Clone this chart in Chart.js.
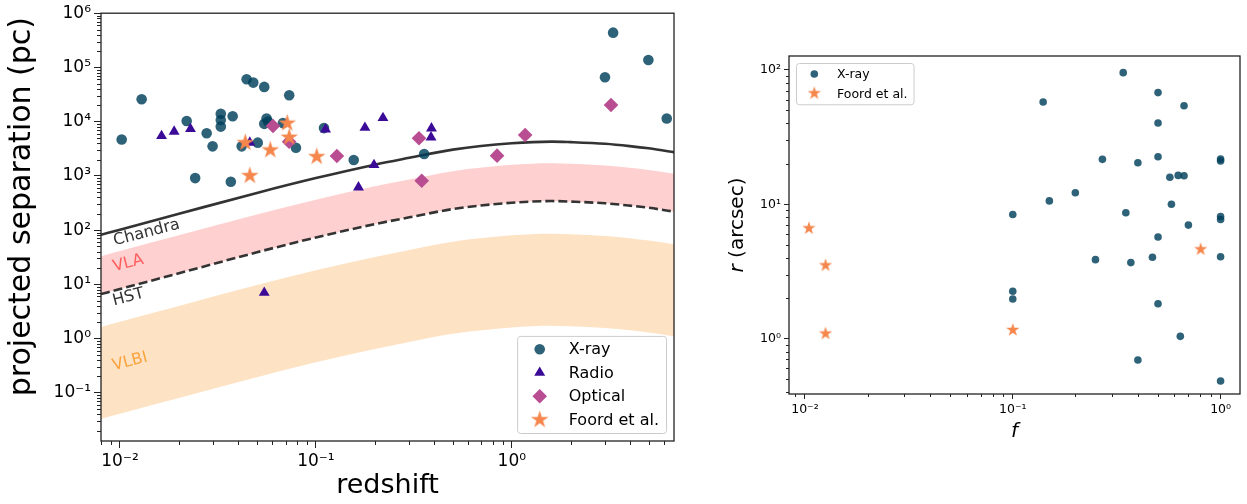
<!DOCTYPE html>
<html>
<head>
<meta charset="utf-8">
<script src="https://cdn.jsdelivr.net/npm/chart.js@4/dist/chart.umd.min.js"></script>
<style>
  body { margin: 0; background: #fff; }
  #sepChart { position: absolute; left: 0; top: 0; }
  #offChart { position: absolute; left: 700px; top: 0; }
</style>
</head>
<body>
<canvas id="sepChart" width="700" height="504"></canvas>
<canvas id="offChart" width="547" height="504"></canvas>
<script>
// --- resolution limits vs redshift (projected separation in pc) ---
const curveZ     = [0.008, 0.01, 0.02, 0.05, 0.1, 0.2, 0.3, 0.5, 1, 1.6, 2, 3, 4, 5, 7];
const chandraSep = [82, 102, 200, 485, 910, 1610, 2150, 3050, 4000, 4290, 4190, 3900, 3540, 3220, 2680];
const hstSep     = [6.6, 8.2, 16, 39, 73, 129, 172, 244, 320, 343, 335, 312, 283, 258, 214];
const vlaUpper   = [33, 41, 80, 194, 364, 644, 860, 1220, 1600, 1716, 1676, 1560, 1416, 1288, 1072];
const vlaLower   = [6.6, 8.2, 16, 39, 73, 129, 172, 244, 320, 343, 335, 312, 283, 258, 214];
const vlbiUpper  = [1.64, 2.05, 4.0, 9.7, 18.2, 32, 43, 61, 80, 86, 84, 78, 71, 64, 54];
const vlbiLower  = [0.033, 0.041, 0.080, 0.194, 0.364, 0.64, 0.86, 1.22, 1.6, 1.72, 1.68, 1.56, 1.42, 1.29, 1.07];

// --- dual AGN samples ---
const xrayZ   = [0.0102, 0.0129, 0.0219, 0.0277, 0.0297, 0.0242, 0.0327, 0.0327, 0.0327, 0.0376,
                 0.0368, 0.0443, 0.0479, 0.0545, 0.0731, 0.056, 0.0545, 0.0571, 0.0418, 0.0505,
                 0.0679, 0.0791, 0.11, 0.156, 0.357, 3.29, 4.98, 2.99, 6.18];
const xraySep = [4700, 25900, 10300, 6100, 3500, 910, 14000, 10700, 8100, 12600,
                 780, 60500, 52500, 43700, 30700, 11400, 9100, 10000, 3500, 4100,
                 9400, 3300, 7600, 1960, 2530, 438000, 137000, 65900, 11400];
const radioZ   = [0.0163, 0.0189, 0.0229, 0.046, 0.112, 0.178, 0.22, 0.198, 0.165, 0.389, 0.387, 0.0545];
const radioSep = [5450, 6540, 7330, 4100, 7240, 7740, 11700, 1590, 617, 7550, 5150, 7.0];
const opticalZ   = [0.0604, 0.073, 0.128, 0.336, 0.347, 0.841, 1.17, 3.21];
const opticalSep = [8330, 4280, 2330, 4950, 815, 2360, 5690, 20300];
const foordZ   = [0.0436, 0.046, 0.0585, 0.0714, 0.0731, 0.101];
const foordSep = [4100, 1010, 3000, 9350, 5150, 2260];

// --- offset fraction f vs angular separation r ---
const xrayF = [0.34, 0.14, 0.5, 0.667, 0.5, 0.27, 0.4, 0.5, 1, 1, 0.57, 0.625, 0.667, 0.2, 0.15, 0.58,
               0.1, 0.35, 1, 1, 0.7, 0.5, 0.25, 0.37, 0.47, 1, 0.1, 0.1, 0.5, 0.64, 0.4, 1];
const xrayR = [95.5, 57.8, 67.8, 54.2, 40.3, 21.6, 20.4, 22.6, 21.7, 21.0, 15.9, 16.4, 16.3, 12.2, 10.6, 10.0,
               8.4, 8.65, 8.1, 7.7, 7.0, 5.7, 3.87, 3.68, 4.03, 4.07, 2.25, 1.97, 1.82, 1.04, 0.693, 0.483];
const foordF = [0.01045, 0.01256, 0.01256, 0.1, 0.802];
const foordR = [6.63, 3.51, 1.09, 1.16, 4.62];

const decadesLeftX  = [0.01, 0.1, 1];
const decadesLeftY  = [0.1, 1, 10, 100, 1000, 10000, 100000, 1000000];
const decadesRightX = [0.01, 0.1, 1];
const decadesRightY = [1, 10, 100];

const FONT = "'DejaVu Sans', sans-serif";
Chart.defaults.font.family = FONT;
Chart.defaults.color = '#000';

const XRAY = 'rgba(0,64,92,0.82)';
const RADIO = '#3b0b98';
const OPTICAL = '#b94d92';
const FOORD = '#f5864c';

const pts = (xs, ys) => xs.map((v, i) => ({ x: v, y: ys[i] }));

const SUP = { '-': '\u207B', '0': '\u2070', '1': '\u00B9', '2': '\u00B2', '3': '\u00B3',
              '4': '\u2074', '5': '\u2075', '6': '\u2076', '7': '\u2077', '8': '\u2078', '9': '\u2079' };
function powerLabel(v) {
  const e = Math.round(Math.log10(v));
  return '10' + String(e).split('').map(c => SUP[c]).join('');
}

// filled five-point star, used as a point style
function starImage(R, color) {
  const c = document.createElement('canvas');
  const s = Math.ceil(R * 2 + 2);
  c.width = s; c.height = s;
  const g = c.getContext('2d');
  g.fillStyle = color;
  g.beginPath();
  for (let i = 0; i < 10; i++) {
    const r = i % 2 ? R * 0.382 : R;
    const a = -Math.PI / 2 + i * Math.PI / 5;
    g.lineTo(s / 2 + r * Math.cos(a), s / 2 + r * Math.sin(a));
  }
  g.closePath();
  g.fill();
  return c;
}

function logAxis(min, max, decades, opts) {
  return {
    type: 'logarithmic',
    position: opts.position,
    min: min,
    max: max,
    afterBuildTicks: s => { s.ticks = decades.map(v => ({ value: v })); },
    afterFit: s => { if (opts.position === 'left') s.width = opts.size; else s.height = opts.size; },
    ticks: {
      autoSkip: false, maxRotation: 0, padding: opts.pad,
      font: { size: opts.tickSize }, color: '#000',
      callback: v => powerLabel(v)
    },
    grid: { drawOnChartArea: false, drawTicks: true, tickLength: opts.tickLen, color: '#222', lineWidth: 1 },
    border: { display: false },
    title: opts.title || { display: false }
  };
}

// box around the plot area plus the short minor ticks of both log axes
const frameAndMinorTicks = {
  id: 'frameAndMinorTicks',
  afterDraw(chart, args, opts) {
    const { ctx, chartArea: a } = chart;
    ctx.save();
    ctx.strokeStyle = '#222';
    ctx.lineWidth = 1;
    ['x', 'y'].forEach(id => {
      const s = chart.scales[id];
      for (let e = Math.floor(Math.log10(s.min)); e <= Math.ceil(Math.log10(s.max)); e++) {
        for (let m = 2; m <= 9; m++) {
          const v = m * Math.pow(10, e);
          if (v < s.min || v > s.max) continue;
          const p = Math.round(s.getPixelForValue(v)) + 0.5;
          ctx.beginPath();
          if (id === 'x') { ctx.moveTo(p, a.bottom); ctx.lineTo(p, a.bottom + opts.len); }
          else { ctx.moveTo(a.left, p); ctx.lineTo(a.left - opts.len, p); }
          ctx.stroke();
        }
      }
    });
    ctx.lineWidth = 1.3;
    ctx.strokeRect(a.left, a.top, a.right - a.left, a.bottom - a.top);
    ctx.restore();
  }
};

// rotated names of the instrument limits
const curveLabels = {
  id: 'curveLabels',
  afterDatasetsDraw(chart, args, opts) {
    if (!opts.items) return;
    const { ctx, scales: { x, y } } = chart;
    opts.items.forEach(it => {
      ctx.save();
      ctx.translate(x.getPixelForValue(it.z), y.getPixelForValue(it.sep));
      ctx.rotate(it.angle * Math.PI / 180);
      ctx.font = opts.size + 'px ' + FONT;
      ctx.fillStyle = it.color;
      ctx.textAlign = 'center';
      ctx.textBaseline = 'middle';
      ctx.fillText(it.text, 0, 0);
      ctx.restore();
    });
  }
};

// legend box drawn inside the plot area
const insetLegend = {
  id: 'insetLegend',
  afterDraw(chart, args, opts) {
    const { ctx, chartArea: a } = chart;
    const items = chart.data.datasets.filter(d => d.inLegend);
    ctx.save();
    ctx.font = opts.size + 'px ' + FONT;
    const tw = Math.max(...items.map(d => ctx.measureText(d.label).width));
    const w = opts.textX + tw + opts.padR;
    const h = opts.padY * 2 + (items.length - 1) * opts.rowH;
    const bx = opts.corner === 'br' ? a.right - opts.inset - w : a.left + opts.inset;
    const by = opts.corner === 'br' ? a.bottom - opts.inset - h : a.top + opts.inset;
    ctx.beginPath();
    ctx.roundRect(bx + 0.5, by + 0.5, w, h, 3);
    ctx.fillStyle = 'rgba(255,255,255,0.8)';
    ctx.fill();
    ctx.strokeStyle = '#cccccc';
    ctx.lineWidth = 1;
    ctx.stroke();
    items.forEach((d, i) => {
      const y = by + opts.padY + i * opts.rowH;
      ctx.fillStyle = d.backgroundColor;
      Chart.helpers.drawPoint(ctx, { pointStyle: d.pointStyle, radius: d.pointRadius, rotation: 0, borderWidth: 0 },
        bx + opts.markerX, y);
      ctx.fillStyle = '#000';
      ctx.textAlign = 'left';
      ctx.textBaseline = 'middle';
      ctx.fillText(d.label, bx + opts.textX, y + 1);
    });
    ctx.restore();
  }
};

// rotated y title, parts may be italic
const sideTitle = {
  id: 'sideTitle',
  afterDraw(chart, args, opts) {
    if (!opts.parts) return;
    const { ctx, chartArea: a } = chart;
    ctx.save();
    ctx.translate(opts.x, (a.top + a.bottom) / 2 + (opts.dy || 0));
    ctx.rotate(-Math.PI / 2);
    ctx.fillStyle = '#000';
    ctx.textBaseline = 'middle';
    ctx.textAlign = 'left';
    const fonts = opts.parts.map(p => (p.italic ? 'italic ' : '') + opts.size + 'px ' + FONT);
    let total = 0;
    const widths = opts.parts.map((p, i) => { ctx.font = fonts[i]; const m = ctx.measureText(p.text).width; total += m; return m; });
    let cx = -total / 2;
    opts.parts.forEach((p, i) => { ctx.font = fonts[i]; ctx.fillText(p.text, cx, 0); cx += widths[i]; });
    ctx.restore();
  }
};

const bandLine = (data, extra) => Object.assign({
  type: 'line', data: data, borderColor: 'transparent', pointRadius: 0,
  cubicInterpolationMode: 'monotone', fill: false
}, extra);

new Chart(document.getElementById('sepChart'), {
  type: 'scatter',
  data: {
    datasets: [
      { label: 'X-ray', inLegend: true, data: pts(xrayZ, xraySep), pointStyle: 'circle', pointRadius: 5.3,
        backgroundColor: XRAY, borderWidth: 0, order: 4 },
      { label: 'Radio', inLegend: true, data: pts(radioZ, radioSep), pointStyle: 'triangle', pointRadius: 6.3,
        backgroundColor: RADIO, borderWidth: 0, order: 3 },
      { label: 'Optical', inLegend: true, data: pts(opticalZ, opticalSep), pointStyle: 'rectRot', pointRadius: 7.3,
        backgroundColor: OPTICAL, borderWidth: 0, order: 2 },
      { label: 'Foord et al.', inLegend: true, data: pts(foordZ, foordSep), pointStyle: starImage(9.3, FOORD),
        pointRadius: 9.3, backgroundColor: FOORD, borderWidth: 0, order: 1 },
      bandLine(pts(curveZ, chandraSep), { borderColor: '#333', borderWidth: 2.6, order: 5 }),
      bandLine(pts(curveZ, hstSep), { borderColor: '#333', borderWidth: 2.6, borderDash: [9, 4], order: 6 }),
      bandLine(pts(curveZ, vlaLower), { order: 7 }),
      bandLine(pts(curveZ, vlaUpper), { fill: '-1', backgroundColor: '#ffd0d0', order: 7 }),
      bandLine(pts(curveZ, vlbiLower), { order: 8 }),
      bandLine(pts(curveZ, vlbiUpper), { fill: '-1', backgroundColor: '#fde3c4', order: 8 })
    ]
  },
  options: {
    responsive: false,
    animation: false,
    events: [],
    layout: { padding: { left: 0, top: 13, right: 26, bottom: 0 } },
    scales: {
      x: logAxis(0.008, 6.73, decadesLeftX, {
        position: 'bottom', size: 63, pad: 3, tickSize: 17, tickLen: 7,
        title: { display: true, text: 'redshift', font: { size: 27 }, padding: { top: 0, bottom: 2 }, color: '#000' }
      }),
      y: logAxis(0.0129, 1e6, decadesLeftY, { position: 'left', size: 101, pad: 3, tickSize: 17, tickLen: 7 })
    },
    plugins: {
      legend: { display: false },
      tooltip: { enabled: false },
      frameAndMinorTicks: { len: 4 },
      sideTitle: { x: 22, dy: -20.5, size: 30, parts: [{ text: 'projected separation (pc)' }] },
      curveLabels: {
        size: 16,
        items: [
          { text: 'Chandra', z: 0.01368, sep: 89.5, angle: -14.5, color: '#333' },
          { text: 'VLA', z: 0.01103, sep: 24.4, angle: -14.5, color: '#ff5c5c' },
          { text: 'HST', z: 0.01103, sep: 5.75, angle: -14.5, color: '#333' },
          { text: 'VLBI', z: 0.01125, sep: 0.373, angle: -14.5, color: '#f9a23c' }
        ]
      },
      insetLegend: { corner: 'br', inset: 8, size: 16, rowH: 23.5, padY: 13.3, markerX: 22.6, textX: 51.6, padR: 7 }
    }
  },
  plugins: [frameAndMinorTicks, sideTitle, curveLabels, insetLegend]
});

new Chart(document.getElementById('offChart'), {
  type: 'scatter',
  data: {
    datasets: [
      { label: 'X-ray', inLegend: true, data: pts(xrayF, xrayR), pointStyle: 'circle', pointRadius: 3.8,
        backgroundColor: XRAY, borderWidth: 0, order: 2 },
      { label: 'Foord et al.', inLegend: true, data: pts(foordF, foordR), pointStyle: starImage(7, FOORD),
        pointRadius: 7, backgroundColor: FOORD, borderWidth: 0, order: 1 }
    ]
  },
  options: {
    responsive: false,
    animation: false,
    events: [],
    layout: { padding: { left: 0, top: 56, right: 4, bottom: 0 } },
    scales: {
      x: logAxis(0.00838, 1.24, decadesRightX, {
        position: 'bottom', size: 110, pad: 3, tickSize: 12.5, tickLen: 5,
        title: { display: true, text: 'f', font: { size: 20, style: 'italic' }, padding: { top: 0, bottom: 60 }, color: '#000' }
      }),
      y: logAxis(0.387, 127, decadesRightY, { position: 'left', size: 89, pad: 3, tickSize: 12.5, tickLen: 5 })
    },
    plugins: {
      legend: { display: false },
      tooltip: { enabled: false },
      frameAndMinorTicks: { len: 3 },
      sideTitle: { x: 38, size: 20, parts: [{ text: 'r', italic: true }, { text: ' (arcsec)' }] },
      insetLegend: { corner: 'tl', inset: 7, size: 12.5, rowH: 19.3, padY: 11, markerX: 18.3, textX: 41, padR: 6 }
    }
  },
  plugins: [frameAndMinorTicks, sideTitle, insetLegend]
});
</script>
</body>
</html>
